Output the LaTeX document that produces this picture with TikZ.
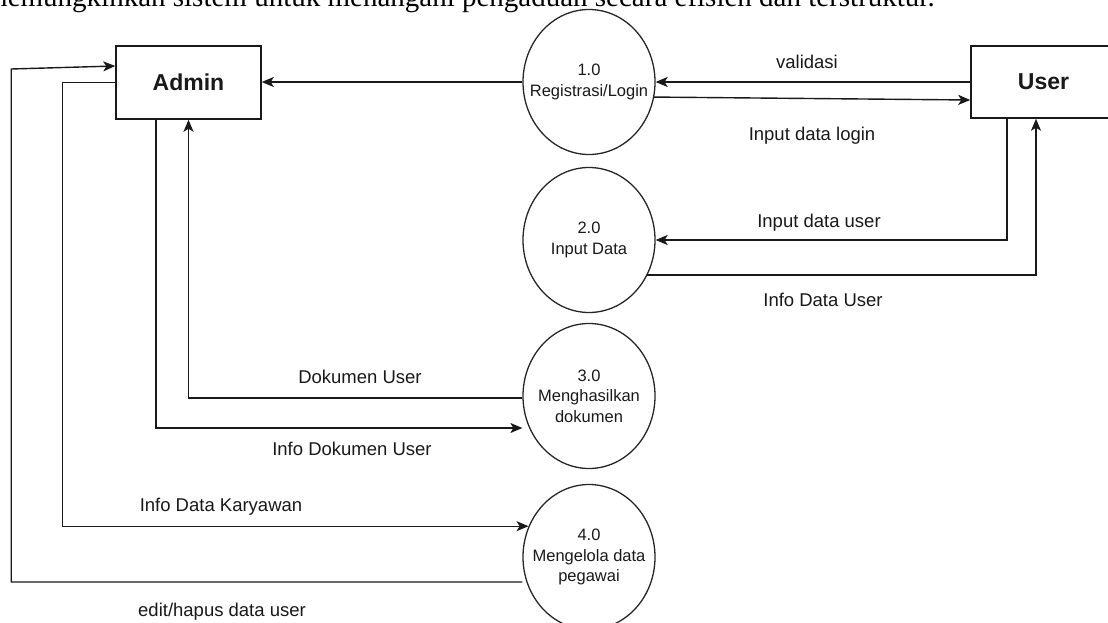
\documentclass[tikz,border=0pt]{standalone}
\usepackage{fontspec}
\setmainfont{Liberation Sans}
\newfontfamily\serifz{Liberation Serif}
\usetikzlibrary{arrows.meta,shapes.geometric}
\begin{document}
\begin{tikzpicture}[x=1pt,y=-1pt,
  ent/.style={draw=black!90, line width=1.5pt, rectangle, minimum width=145pt, minimum height=73pt, inner sep=0pt, font=\fontsize{23}{27}\selectfont\bfseries, text=black!90},
  proc/.style={draw=black!85, line width=1.3pt, ellipse, minimum width=132pt, minimum height=145pt, inner sep=0pt},
  ptext/.style={align=center, font=\fontsize{16.5}{20.5}\selectfont, text=black!90},
  flow/.style={draw=black!90, line width=1.4pt, -{Stealth[length=12pt,width=10pt,inset=3pt]}},
  lbl/.style={anchor=base, font=\fontsize{18.5}{22}\selectfont, text=black!90, inner sep=0pt}]
\useasboundingbox (0,0) rectangle (1108,623);
\begin{scope}
\clip (0,0) rectangle (1108,623);
\node[anchor=base west, inner sep=0pt, font=\serifz\fontsize{29}{34}\selectfont] (top) at (-15,7) {memungkinkan sistem untuk menangani pengaduan secara efisien dan terstruktur.};

\node[ent] (admin) at (188.5,82.5) {Admin};
\node[ent, minimum height=72pt] (user) at (1043.5,82) {User};

\node[proc, label={[ptext]center:{1.0\\Registrasi/Login}}] (c1) at (589,82) {};
\node[proc, label={[ptext]center:{2.0\\Input Data}}] (c2) at (589,240) {};
\node[proc, label={[ptext]center:{3.0\\Menghasilkan\\dokumen}}] (c3) at (589,396) {};
\node[proc, label={[ptext]center:{4.0\\Mengelola data\\pegawai}}] (c4) at (589,557) {};

% 1.0 -> Admin
\draw[flow] (c1.west) -- (c1.west -| admin.east);
% User -> 1.0 validasi
\draw[flow] (user.west) -- (user.west -| c1.east);
\node[lbl] (l1) at (807,69) {validasi};
% 1.0 -> User
\draw[flow] (c1.-13) -- ([yshift=-18pt]user.west);
\node[lbl] (l2) at (812,140) {Input data login};
% User -> 2.0
\draw[flow] ([xshift=-36.5pt]user.south) |- (c2.east);
\node[lbl] (l3) at (819,227) {Input data user};
% 2.0 -> User
\draw[flow] (c2.-31) -| ([xshift=-7.5pt]user.south);
\node[lbl] (l4) at (823,306) {Info Data User};
% 3.0 -> Admin
\draw[flow] ([yshift=-2pt]c3.west) -| (admin.south);
\node[lbl] (l5) at (360,383) {Dokumen User};
% Admin -> 3.0
\draw[flow] ([xshift=-32.5pt]admin.south) |- ([yshift=-32pt]c3.west);
\node[lbl] (l6) at (352,455) {Info Dokumen User};
% Admin -> 4.0
\draw[flow] (admin.west) -- ([xshift=-53pt]admin.west) |- (c4.153.5);
\node[lbl] (l7) at (221,511) {Info Data Karyawan};
% 4.0 -> Admin
\draw[flow] ([yshift=-25pt]c4.west) -| ([xshift=-104pt,yshift=13.5pt]admin.west) -- ([yshift=16.5pt]admin.west);
\node[lbl] (l8) at (222,616) {edit/hapus data user};
\end{scope}
\end{tikzpicture}
\end{document}
